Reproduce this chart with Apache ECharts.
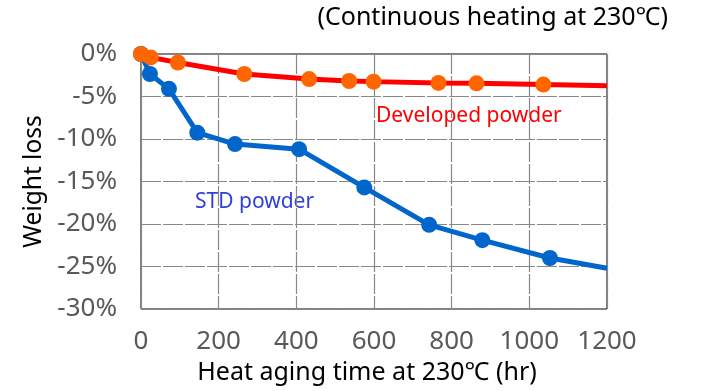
<!DOCTYPE html>
<html><head><meta charset="utf-8">
<script src="https://cdn.jsdelivr.net/npm/echarts@6/dist/echarts.min.js"></script>
<style>html,body{margin:0;padding:0;background:#fff}#c{width:703px;height:391px}</style>
</head><body><div id="c"></div>
<script>
const FONT = '"Noto Sans", "Noto Sans CJK JP", sans-serif';
const titleText = '(Continuous heating at 230℃)';
const xAxisTitle = 'Heat aging time at 230℃ (hr)';
const yAxisTitle = 'Weight loss';
const devLabel = 'Developed powder';
const stdLabel = 'STD powder';
const xTicks = [0, 200, 400, 600, 800, 1000, 1200];
const yTicks = [0, -5, -10, -15, -20, -25, -30];

// Developed powder (hours, %)
const devHours = [0, 25, 95, 266, 433, 536, 599, 766, 864, 1036, 1200];
const devLoss  = [0, -0.4, -1.0, -2.35, -2.95, -3.18, -3.25, -3.4, -3.45, -3.6, -3.73];
const devMarked = [true, true, true, true, true, true, true, true, true, true, false];

// STD powder (hours, %)
const stdHours = [0, 23, 72, 145, 242, 407, 575, 742, 879, 1053, 1200];
const stdLoss  = [0, -2.35, -4.1, -9.25, -10.6, -11.2, -15.7, -20.1, -21.9, -24.0, -25.2];
const stdMarked = [true, true, true, true, true, true, true, true, true, true, false];

function build(h, v, m) {
  return h.map((x, i) => m[i] ? [x, v[i]] : {value: [x, v[i]], symbol: 'none'});
}

const chart = echarts.init(document.getElementById('c'), null, {renderer: 'canvas'});
chart.setOption({
  animation: false,
  textStyle: {fontFamily: FONT},
  grid: {left: 141, right: 96, top: 54, bottom: 82, show: true, borderColor: '#000', borderWidth: 1, backgroundColor: 'transparent'},
  xAxis: {
    type: 'value', min: xTicks[0], max: xTicks[xTicks.length - 1], interval: 200,
    name: xAxisTitle, nameLocation: 'middle', nameGap: 45,
    nameTextStyle: {color: '#000', fontSize: 25, fontFamily: FONT, padding: [0, 14, 0, 0]},
    axisLine: {show: false}, axisTick: {show: false},
    axisLabel: {color: '#595959', fontSize: 26, margin: 20, fontFamily: FONT, formatter: v => String(v)},
    splitLine: {show: true, lineStyle: {color: '#888', width: 1.2, type: [20, 2]}}
  },
  yAxis: {
    type: 'value', min: yTicks[yTicks.length - 1], max: yTicks[0], interval: 5,
    name: yAxisTitle, nameLocation: 'middle', nameGap: 95, nameRotate: 90,
    nameTextStyle: {color: '#000', fontSize: 24.5, fontFamily: FONT},
    axisLine: {show: false}, axisTick: {show: false},
    axisLabel: {color: '#595959', fontSize: 26, margin: 24, fontFamily: FONT, formatter: '{value}%'},
    splitLine: {show: true, lineStyle: {color: '#888', width: 1.2, type: [20, 2]}}
  },
  series: [
    {
      name: stdLabel, type: 'line', data: build(stdHours, stdLoss, stdMarked),
      symbol: 'circle', symbolSize: 16,
      lineStyle: {color: '#0066CC', width: 5},
      itemStyle: {color: '#0066CC'}, z: 2
    },
    {
      name: devLabel, type: 'line', data: build(devHours, devLoss, devMarked),
      symbol: 'circle', symbolSize: 16,
      lineStyle: {color: '#FF0000', width: 5},
      itemStyle: {color: '#FF6600'}, z: 3
    }
  ],
  graphic: [
    {type: 'text', right: 35, top: 5, style: {text: titleText, fill: '#000', font: '25px ' + FONT}},
    {type: 'text', left: 376, top: 106, style: {text: devLabel, fill: '#FF0000', font: '21px ' + FONT}},
    {type: 'text', left: 195, top: 192, style: {text: stdLabel, fill: '#2F3FDB', font: '21px ' + FONT}}
  ]
});
</script></body></html>
